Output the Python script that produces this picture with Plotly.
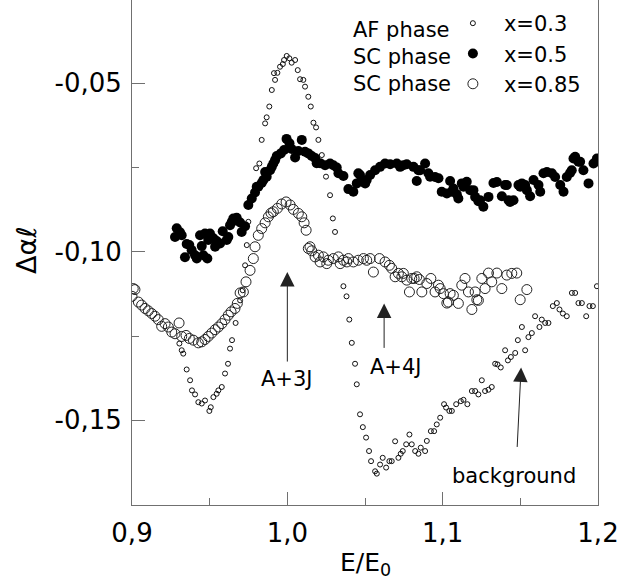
import plotly.graph_objects as go

# E/E0 and delta alpha*l for the three samples
e_af = [0.9305, 0.9320, 0.9330, 0.9352, 0.9374, 0.9386, 0.9406, 0.9427, 0.9449, 0.9470,
        0.9498, 0.9507, 0.9524, 0.9545, 0.9556, 0.9578, 0.9599, 0.9618, 0.9631, 0.9644,
        0.9667, 0.9696, 0.9713, 0.9728, 0.9739, 0.9749, 0.9799, 0.9820, 0.9835, 0.9857,
        0.9867, 0.9884, 0.9900, 0.9914, 0.9921, 0.9936, 0.9953, 0.9971, 0.9979, 0.9996,
        1.0013, 1.0028, 1.0050, 1.0067, 1.0082, 1.0103, 1.0114, 1.0135, 1.0151, 1.0168,
        1.0185, 1.0200, 1.0222, 1.0249, 1.0275, 1.0293, 1.0307, 1.0361, 1.0381, 1.0399,
        1.0415, 1.0436, 1.0447, 1.0468, 1.0486, 1.0507, 1.0526, 1.0539, 1.0565, 1.0576,
        1.0597, 1.0614, 1.0636, 1.0657, 1.0672, 1.0694, 1.0715, 1.0730, 1.0743, 1.0765,
        1.0786, 1.0801, 1.0823, 1.0844, 1.0859, 1.0887, 1.0898, 1.0924, 1.0945, 1.0962,
        1.0984, 1.1009, 1.1022, 1.1043, 1.1059, 1.1087, 1.1117, 1.1134, 1.1159, 1.1188,
        1.1209, 1.1230, 1.1252, 1.1273, 1.1295, 1.1316, 1.1338, 1.1353, 1.1374, 1.1402,
        1.1420, 1.1439, 1.1467, 1.1484, 1.1510, 1.1531, 1.1552, 1.1574, 1.1595, 1.1623,
        1.1638, 1.1660, 1.1681, 1.1709, 1.1735, 1.1752, 1.1774, 1.1799, 1.1832, 1.1853,
        1.1874, 1.1896, 1.1924, 1.1945, 1.1967, 1.1993]
d_af = [-0.1272, -0.1292, -0.1302, -0.1349, -0.1381, -0.1411, -0.1423, -0.1446, -0.1450, -0.1441,
        -0.1472, -0.1461, -0.1431, -0.1421, -0.1411, -0.1401, -0.1361, -0.1332, -0.1287, -0.1262,
        -0.1211, -0.1144, -0.1114, -0.1040, -0.0980, -0.0911, -0.0752, -0.0738, -0.0668, -0.0619,
        -0.0601, -0.0569, -0.0520, -0.0470, -0.0490, -0.0469, -0.0451, -0.0443, -0.0431, -0.0419,
        -0.0426, -0.0439, -0.0431, -0.0461, -0.0488, -0.0490, -0.0510, -0.0540, -0.0569, -0.0617,
        -0.0631, -0.0668, -0.0713, -0.0777, -0.0832, -0.0901, -0.0941, -0.1102, -0.1132, -0.1201,
        -0.1270, -0.1332, -0.1393, -0.1482, -0.1520, -0.1551, -0.1591, -0.1621, -0.1651, -0.1658,
        -0.1631, -0.1611, -0.1640, -0.1621, -0.1621, -0.1562, -0.1611, -0.1599, -0.1591, -0.1571,
        -0.1542, -0.1571, -0.1591, -0.1599, -0.1581, -0.1591, -0.1561, -0.1532, -0.1532, -0.1512,
        -0.1492, -0.1452, -0.1462, -0.1472, -0.1472, -0.1452, -0.1443, -0.1439, -0.1452, -0.1413,
        -0.1413, -0.1423, -0.1381, -0.1413, -0.1409, -0.1401, -0.1332, -0.1334, -0.1343, -0.1292,
        -0.1322, -0.1312, -0.1300, -0.1262, -0.1223, -0.1292, -0.1253, -0.1241, -0.1191, -0.1223,
        -0.1201, -0.1211, -0.1211, -0.1161, -0.1152, -0.1171, -0.1183, -0.1191, -0.1122, -0.1122,
        -0.1152, -0.1152, -0.1191, -0.1161, -0.1161, -0.1102]

e_sc = [0.9277, 0.9288, 0.9309, 0.9320, 0.9341, 0.9352, 0.9369, 0.9384, 0.9406, 0.9417,
        0.9438, 0.9449, 0.9459, 0.9470, 0.9485, 0.9491, 0.9502, 0.9524, 0.9535, 0.9545,
        0.9567, 0.9584, 0.9610, 0.9620, 0.9631, 0.9642, 0.9652, 0.9674, 0.9696, 0.9706,
        0.9728, 0.9749, 0.9771, 0.9792, 0.9803, 0.9813, 0.9835, 0.9846, 0.9857, 0.9867,
        0.9889, 0.9900, 0.9910, 0.9921, 0.9932, 0.9958, 0.9979, 0.9995, 1.0014, 1.0028,
        1.0050, 1.0071, 1.0093, 1.0114, 1.0135, 1.0157, 1.0179, 1.0189, 1.0211, 1.0243,
        1.0275, 1.0296, 1.0318, 1.0329, 1.0361, 1.0393, 1.0425, 1.0447, 1.0457, 1.0468,
        1.0490, 1.0501, 1.0511, 1.0533, 1.0565, 1.0597, 1.0629, 1.0662, 1.0705, 1.0726,
        1.0747, 1.0769, 1.0812, 1.0833, 1.0844, 1.0855, 1.0887, 1.0908, 1.0919, 1.0951,
        1.0973, 1.0994, 1.1027, 1.1048, 1.1059, 1.1069, 1.1091, 1.1101, 1.1123, 1.1134,
        1.1155, 1.1177, 1.1198, 1.1209, 1.1230, 1.1241, 1.1262, 1.1295, 1.1327, 1.1349,
        1.1381, 1.1402, 1.1413, 1.1424, 1.1434, 1.1456, 1.1488, 1.1499, 1.1510, 1.1531,
        1.1542, 1.1563, 1.1585, 1.1617, 1.1628, 1.1649, 1.1671, 1.1703, 1.1724, 1.1757,
        1.1778, 1.1799, 1.1820, 1.1831, 1.1842, 1.1853, 1.1874, 1.1885, 1.1906, 1.1939,
        1.1971, 1.1993]
d_sc = [-0.0956, -0.0930, -0.0942, -0.0951, -0.1016, -0.0977, -0.0980, -0.0995, -0.1010, -0.1020,
        -0.0951, -0.0983, -0.1010, -0.0946, -0.1020, -0.0965, -0.0946, -0.0960, -0.0985, -0.0968,
        -0.0975, -0.0939, -0.0965, -0.0956, -0.0921, -0.0912, -0.0901, -0.0899, -0.0913, -0.0941,
        -0.0924, -0.0861, -0.0842, -0.0824, -0.0807, -0.0807, -0.0796, -0.0787, -0.0763, -0.0777,
        -0.0758, -0.0748, -0.0738, -0.0728, -0.0716, -0.0708, -0.0698, -0.0665, -0.0678, -0.0695,
        -0.0720, -0.0701, -0.0668, -0.0703, -0.0708, -0.0716, -0.0722, -0.0737, -0.0737, -0.0743,
        -0.0738, -0.0743, -0.0750, -0.0767, -0.0775, -0.0814, -0.0822, -0.0797, -0.0767, -0.0772,
        -0.0793, -0.0797, -0.0787, -0.0772, -0.0758, -0.0748, -0.0738, -0.0740, -0.0738, -0.0748,
        -0.0743, -0.0740, -0.0748, -0.0790, -0.0758, -0.0758, -0.0738, -0.0767, -0.0777, -0.0778,
        -0.0782, -0.0822, -0.0827, -0.0790, -0.0822, -0.0812, -0.0829, -0.0842, -0.0797, -0.0807,
        -0.0792, -0.0817, -0.0817, -0.0837, -0.0850, -0.0847, -0.0866, -0.0837, -0.0796, -0.0793,
        -0.0835, -0.0802, -0.0802, -0.0847, -0.0852, -0.0847, -0.0802, -0.0807, -0.0797, -0.0802,
        -0.0817, -0.0835, -0.0787, -0.0802, -0.0822, -0.0767, -0.0763, -0.0767, -0.0778, -0.0802,
        -0.0822, -0.0778, -0.0766, -0.0758, -0.0723, -0.0718, -0.0733, -0.0733, -0.0758, -0.0797,
        -0.0738, -0.0723]

e_085 = [0.9000, 0.9008, 0.9019, 0.9041, 0.9062, 0.9084, 0.9105, 0.9127, 0.9148, 0.9169,
         0.9191, 0.9213, 0.9234, 0.9256, 0.9277, 0.9303, 0.9320, 0.9348, 0.9369, 0.9395,
         0.9427, 0.9449, 0.9470, 0.9491, 0.9513, 0.9535, 0.9556, 0.9578, 0.9599, 0.9620,
         0.9638, 0.9663, 0.9678, 0.9696, 0.9717, 0.9734, 0.9760, 0.9781, 0.9792, 0.9813,
         0.9835, 0.9857, 0.9878, 0.9895, 0.9910, 0.9936, 0.9964, 0.9992, 1.0018, 1.0039,
         1.0071, 1.0093, 1.0108, 1.0121, 1.0135, 1.0146, 1.0157, 1.0179, 1.0200, 1.0211,
         1.0232, 1.0254, 1.0264, 1.0296, 1.0329, 1.0340, 1.0361, 1.0383, 1.0393, 1.0425,
         1.0457, 1.0490, 1.0511, 1.0533, 1.0554, 1.0593, 1.0629, 1.0657, 1.0672, 1.0694,
         1.0715, 1.0737, 1.0747, 1.0769, 1.0786, 1.0801, 1.0816, 1.0833, 1.0850, 1.0866,
         1.0898, 1.0924, 1.0951, 1.0973, 1.0984, 1.1005, 1.1027, 1.1037, 1.1048, 1.1069,
         1.1101, 1.1123, 1.1144, 1.1166, 1.1188, 1.1209, 1.1220, 1.1230, 1.1252, 1.1273,
         1.1295, 1.1316, 1.1349, 1.1381, 1.1413, 1.1445, 1.1477, 1.1499, 1.1542]
d_085 = [-0.1132, -0.1109, -0.1112, -0.1149, -0.1158, -0.1168, -0.1175, -0.1183, -0.1191, -0.1201,
         -0.1221, -0.1213, -0.1223, -0.1238, -0.1243, -0.1211, -0.1251, -0.1248, -0.1257, -0.1262,
         -0.1270, -0.1267, -0.1260, -0.1251, -0.1241, -0.1231, -0.1223, -0.1213, -0.1201, -0.1188,
         -0.1178, -0.1168, -0.1153, -0.1122, -0.1119, -0.1089, -0.1055, -0.1020, -0.0985, -0.0951,
         -0.0931, -0.0914, -0.0896, -0.0885, -0.0881, -0.0871, -0.0858, -0.0852, -0.0861, -0.0874,
         -0.0886, -0.0896, -0.0914, -0.0936, -0.0990, -0.0985, -0.0997, -0.1015, -0.1010, -0.1030,
         -0.1015, -0.1035, -0.1025, -0.1020, -0.1015, -0.1035, -0.1025, -0.1030, -0.1020, -0.1030,
         -0.1025, -0.1020, -0.1025, -0.1020, -0.1060, -0.1020, -0.1030, -0.1040, -0.1049, -0.1074,
         -0.1064, -0.1074, -0.1064, -0.1084, -0.1119, -0.1079, -0.1079, -0.1074, -0.1082, -0.1119,
         -0.1094, -0.1079, -0.1119, -0.1099, -0.1109, -0.1124, -0.1152, -0.1149, -0.1124, -0.1129,
         -0.1153, -0.1099, -0.1079, -0.1119, -0.1171, -0.1119, -0.1142, -0.1144, -0.1079, -0.1109,
         -0.1063, -0.1089, -0.1063, -0.1109, -0.1069, -0.1064, -0.1063, -0.1142, -0.1112]

x_ticks = [0.9, 1.0, 1.1, 1.2]
x_ticktext = ['0,9', '1,0', '1,1', '1,2']
y_ticks = [-0.15, -0.10, -0.05]
y_ticktext = ['-0,15', '-0,10', '-0,05']

FONT = 'DejaVu Sans, Liberation Sans, Arial, sans-serif'
AXC = '#707070'

fig = go.Figure()
fig.add_trace(go.Scatter(x=e_085, y=d_085, mode='markers', name='x=0.85', legendrank=3,
                         marker=dict(symbol='circle-open', size=10, color='#222',
                                     line=dict(width=1))))
fig.add_trace(go.Scatter(x=e_af, y=d_af, mode='markers', name='x=0.3', legendrank=1,
                         marker=dict(symbol='circle-open', size=5, color='#111',
                                     line=dict(width=1))))
fig.add_trace(go.Scatter(x=e_sc, y=d_sc, mode='markers', name='x=0.5', legendrank=2,
                         marker=dict(symbol='circle', size=10, color='black')))

annos = []
for txt, yy in [('AF phase', 0.9406), ('SC phase', 0.8871), ('SC phase', 0.8337)]:
    annos.append(dict(text=txt, xref='paper', yref='paper', x=0.4693, y=yy,
                      xanchor='left', yanchor='middle', showarrow=False,
                      font=dict(size=21, color='black', family=FONT)))

# arrows
for tx, ty, ax, ay in [(1.0, -0.1060, 0, 91), (1.0623, -0.1153, 0, 46), (1.1505, -0.1343, -4, 81)]:
    annos.append(dict(x=tx, y=ty, ax=ax, ay=ay, text='', showarrow=True, arrowhead=2,
                      arrowsize=2.9, arrowwidth=1, arrowcolor='#222'))

for txt, tx, ty in [('A+3J', 1.0, -0.1378), ('A+4J', 1.0700, -0.1343), ('background', 1.1460, -0.1666)]:
    annos.append(dict(text=txt, x=tx, y=ty, xanchor='center', yanchor='middle', showarrow=False,
                      font=dict(size=21, color='black', family=FONT)))

annos.append(dict(text='E/E<sub>0</sub>', xref='paper', yref='paper', x=0.5, y=0,
                  xanchor='center', yanchor='top', yshift=-41, showarrow=False,
                  font=dict(size=25, color='black', family=FONT)))
annos.append(dict(text='\u0394\u03b1\u2113', xref='paper', yref='paper', x=0, y=0.503,
                  xanchor='center', yanchor='middle', xshift=-105, textangle=-90, showarrow=False,
                  font=dict(size=27, color='black', family=FONT)))

fig.update_layout(
    width=633, height=588,
    margin=dict(l=132, r=35, t=0, b=83),
    paper_bgcolor='white', plot_bgcolor='white',
    font=dict(family=FONT, color='black'),
    showlegend=True,
    legend=dict(x=0.665, y=0.994, xanchor='left', yanchor='top', bgcolor='rgba(0,0,0,0)',
                itemwidth=52, font=dict(size=21, family=FONT, color='black'),
                tracegroupgap=0),
    annotations=annos,
    xaxis=dict(range=[0.9, 1.2], tickmode='array', tickvals=x_ticks, ticktext=x_ticktext,
               ticks='inside', ticklen=13, tickcolor=AXC, tickwidth=1,
               showline=True, linecolor=AXC, linewidth=1, showgrid=False, zeroline=False,
               tickfont=dict(size=26, family=FONT, color='black'), ticklabelstandoff=5,
               minor=dict(tickvals=[0.95, 1.05, 1.15], ticks='inside', ticklen=7,
                          tickcolor=AXC, showgrid=False)),
    yaxis=dict(range=[-0.1751, -0.0253], tickmode='array', tickvals=y_ticks, ticktext=y_ticktext,
               ticks='inside', ticklen=13, tickcolor=AXC, tickwidth=1,
               showline=True, mirror=True, linecolor=AXC, linewidth=1, showgrid=False, zeroline=False,
               tickfont=dict(size=26, family=FONT, color='black'), ticklabelstandoff=4,
               minor=dict(tickvals=[-0.125, -0.075], ticks='inside', ticklen=7,
                          tickcolor=AXC, showgrid=False)),
)

fig.write_html("out.html", config={'displayModeBar': False},
               post_script="document.body.style.margin='0';")
